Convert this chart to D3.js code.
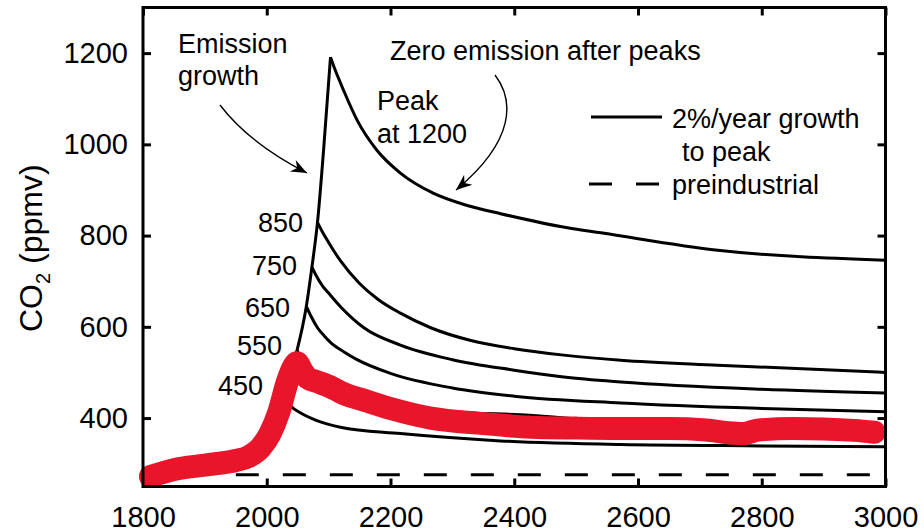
<!DOCTYPE html>
<html>
<head>
<meta charset="utf-8">
<script src="https://cdn.jsdelivr.net/npm/d3@7"></script>
<style>
    body { margin: 0; background: #fff; }
    svg text { font-family: "Liberation Sans", Arial, Helvetica, sans-serif; fill: #000; }
</style>
</head>
<body>
<svg id="chart" width="924" height="532"></svg>
<script>
// ---- data ----
var xTicks = [1800, 2000, 2200, 2400, 2600, 2800, 3000];
var yTicks = [400, 600, 800, 1000, 1200];
var preindustrialPpm = 276;

// 2%/year growth path, shared by all scenarios up to their peaks
var growth = [[1800, 280], [1850, 285], [1900, 294], [1950, 311], [1975, 333], [1990, 360],
    [2000, 378], [2010, 400], [2026, 452], [2037, 495], [2049, 549], [2064, 645],
    [2073, 731], [2082, 829], [2092, 990], [2103, 1191]];

// decay after each peak (zero emission)
var after450 = [[2026, 452], [2040, 425], [2055, 411], [2080, 395], [2119, 380], [2216, 366],
    [2378, 350], [2572, 342], [2800, 339], [3000, 337]];
var after550 = [[2049, 549], [2060, 517], [2080, 488], [2110, 464], [2150, 445], [2200, 430],
    [2300, 414], [2425, 406], [2500, 398], [2572, 388], [2800, 377], [3000, 372]];
var after650 = [[2064, 645], [2072, 622], [2082, 598], [2093, 580], [2103, 566], [2125, 545],
    [2146, 528], [2200, 498], [2300, 466], [2400, 448], [2572, 433], [2800, 421], [3000, 414]];
var after750 = [[2073, 731], [2080, 712], [2090, 690], [2100, 674], [2120, 643], [2157, 598],
    [2216, 560], [2300, 528], [2400, 505], [2480, 490], [2572, 479], [2800, 463], [3000, 455]];
var after850 = [[2082, 829], [2090, 808], [2100, 785], [2119, 745], [2150, 695], [2180, 660],
    [2216, 630], [2265, 598], [2330, 570], [2400, 552], [2480, 538], [2572, 527], [2729, 516],
    [3000, 500]];
var after1200 = [[2103, 1191], [2110, 1165], [2124, 1119], [2146, 1053], [2178, 987], [2216, 937],
    [2269, 893], [2324, 866], [2378, 848], [2486, 817], [2540, 806], [2729, 768], [3000, 746]];

// thick red overlay
var redPath = [[1812, 272], [1850, 287], [1900, 297], [1950, 307], [1970, 315], [1990, 335],
    [2005, 365], [2020, 415], [2033, 478], [2043, 512], [2049, 521], [2057, 503], [2066, 488],
    [2081, 480], [2105, 467], [2119, 457], [2160, 438], [2200, 421], [2265, 400], [2350, 388],
    [2427, 380], [2500, 378], [2572, 377], [2650, 377], [2710, 374], [2745, 368], [2770, 366],
    [2795, 374], [2850, 377], [2950, 373], [2982, 369]];

var peakLabels = ["450", "550", "650", "750", "850"];

function drawChart() {
    'use strict';
    var svg = d3.select("#chart"),
        padL = 143, padR = 885.5, padT = 7.5, padB = 486.5;

    var x = d3.scaleLinear().domain([1800, 3000]).range([padL, padR]);
    var y = d3.scaleLinear().domain([250, 1300]).range([padB, padT]);

    var line = d3.line()
        .x(function (d) { return x(d[0]); })
        .y(function (d) { return y(d[1]); })
        .curve(d3.curveMonotoneX);

    // axes with inward ticks on all four sides
    var gx = svg.append("g").attr("transform", "translate(0," + padB + ")")
        .call(d3.axisBottom(x).tickValues(xTicks).tickSize(-8).tickPadding(20).tickFormat(d3.format("d")));
    var gxt = svg.append("g").attr("transform", "translate(0," + padT + ")")
        .call(d3.axisTop(x).tickValues(xTicks).tickSize(-8).tickFormat(""));
    var gy = svg.append("g").attr("transform", "translate(" + padL + ",0)")
        .call(d3.axisLeft(y).tickValues(yTicks).tickSize(-8).tickPadding(15).tickFormat(d3.format("d")));
    var gyr = svg.append("g").attr("transform", "translate(" + padR + ",0)")
        .call(d3.axisRight(y).tickValues(yTicks).tickSize(-8).tickFormat(""));

    [gx, gxt, gy, gyr].forEach(function (g) {
        g.select(".domain").remove();
        g.selectAll(".tick line").attr("stroke", "#000").attr("stroke-width", 3);
        g.selectAll(".tick text").attr("font-size", 29).attr("fill", "#000")
            .attr("font-family", "Liberation Sans, Arial, sans-serif");
    });

    // preindustrial dashed line
    svg.append("line")
        .attr("x1", x(1950)).attr("x2", x(2980))
        .attr("y1", y(preindustrialPpm)).attr("y2", y(preindustrialPpm))
        .attr("stroke", "#000").attr("stroke-width", 3)
        .attr("stroke-dasharray", "23,24");

    // black scenario curves
    [growth, after450, after550, after650, after750, after850, after1200].forEach(function (s) {
        svg.append("path")
            .datum(s)
            .attr("d", line)
            .attr("fill", "none")
            .attr("stroke", "#000")
            .attr("stroke-width", 3)
            .attr("stroke-linejoin", "round");
    });

    // red overlay
    svg.append("path")
        .datum(redPath)
        .attr("d", line)
        .attr("fill", "none")
        .attr("stroke", "#e8152b")
        .attr("stroke-width", 23)
        .attr("stroke-linecap", "round")
        .attr("stroke-linejoin", "round");

    // frame
    svg.append("rect")
        .attr("x", padL).attr("y", padT)
        .attr("width", padR - padL).attr("height", padB - padT)
        .attr("fill", "none").attr("stroke", "#000").attr("stroke-width", 3);

    // y axis title
    var yt = svg.append("text")
        .attr("transform", "translate(42,332) rotate(-90)")
        .attr("font-size", 32);
    yt.append("tspan").text("CO");
    yt.append("tspan").attr("font-size", 20).attr("dy", 8).text("2");
    yt.append("tspan").attr("dy", -8).text(" (ppmv)");

    // peak labels
    var labelPos = [[263, 395], [282, 355], [290, 317], [297, 275], [303, 232]];
    peakLabels.forEach(function (t, i) {
        svg.append("text")
            .attr("x", labelPos[i][0]).attr("y", labelPos[i][1])
            .attr("text-anchor", "end").attr("font-size", 27)
            .text(t);
    });

    // annotations
    function note(tx, ty, str) {
        svg.append("text").attr("x", tx).attr("y", ty).attr("font-size", 27).text(str);
    }
    note(178, 53, "Emission");
    note(178, 85, "growth");
    note(390, 60, "Zero emission after peaks");
    note(377, 110, "Peak");
    note(377, 143, "at 1200");

    // arrows
    var defs = svg.append("defs");
    defs.append("marker")
        .attr("id", "head")
        .attr("markerUnits", "userSpaceOnUse")
        .attr("viewBox", "-16 -8 18 16")
        .attr("refX", 0).attr("refY", 0)
        .attr("markerWidth", 18).attr("markerHeight", 16)
        .attr("orient", "auto")
        .append("path")
        .attr("d", "M0,0 L-16,-6.5 L-11,0 L-16,6.5 Z")
        .attr("fill", "#000");

    svg.append("path")
        .attr("d", "M220,105 C236,126 262,150 307,173")
        .attr("fill", "none").attr("stroke", "#000").attr("stroke-width", 1.4)
        .attr("marker-end", "url(#head)");
    svg.append("path")
        .attr("d", "M495,75 C514,100 516,140 456,190")
        .attr("fill", "none").attr("stroke", "#000").attr("stroke-width", 1.4)
        .attr("marker-end", "url(#head)");

    // legend
    svg.append("line")
        .attr("x1", 591).attr("x2", 662).attr("y1", 117).attr("y2", 117)
        .attr("stroke", "#000").attr("stroke-width", 3);
    svg.append("line")
        .attr("x1", 589).attr("x2", 662).attr("y1", 184).attr("y2", 184)
        .attr("stroke", "#000").attr("stroke-width", 3)
        .attr("stroke-dasharray", "23,24");
    note(672, 128, "2%/year growth");
    note(682, 161, "to peak");
    note(672, 194, "preindustrial");
}

drawChart();
</script>
</body>
</html>
